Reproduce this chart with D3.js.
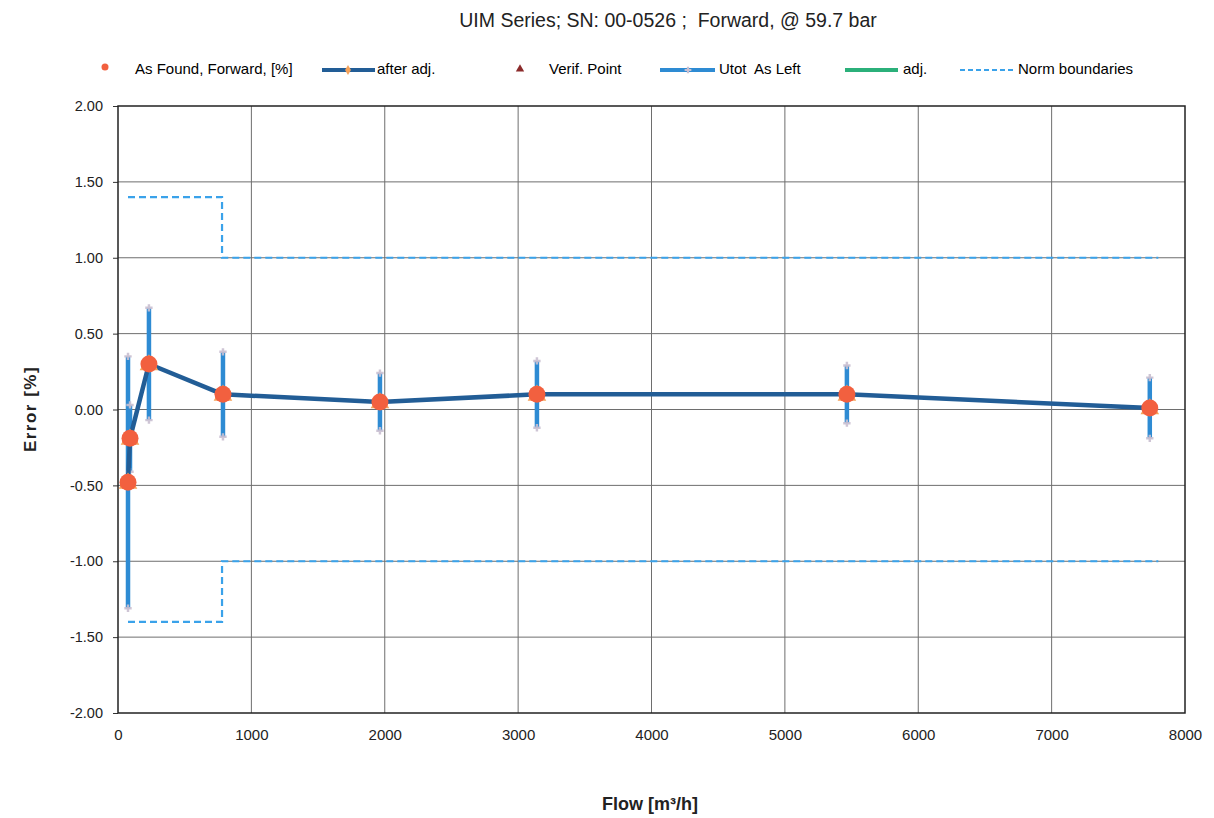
<!DOCTYPE html>
<html><head><meta charset="utf-8">
<script src="https://cdn.jsdelivr.net/npm/d3@7"></script>
<style>
body{margin:0;background:#fff;}
text{font-family:"Liberation Sans",Arial,sans-serif;white-space:pre;}
</style></head>
<body><svg id="c" width="1214" height="818"></svg>
<script>
// ---- data ----
const flows = [75, 90, 232, 787, 1964, 3141, 5465, 7736];
const asFound = [-0.48, -0.19, 0.30, 0.10, 0.05, 0.10, 0.10, 0.01];
const afterAdj = [-0.48, -0.19, 0.30, 0.10, 0.05, 0.10, 0.10, 0.01];
const uncertainty = [0.83, 0.22, 0.37, 0.28, 0.19, 0.22, 0.19, 0.20];
const normUpperX = [75, 780, 780, 7800];
const normUpperY = [1.40, 1.40, 1.00, 1.00];
const normLowerX = [75, 780, 780, 7800];
const normLowerY = [-1.40, -1.40, -1.00, -1.00];
const xTicks = [0, 1000, 2000, 3000, 4000, 5000, 6000, 7000, 8000];
const yTicks = [2, 1.5, 1, 0.5, 0, -0.5, -1, -1.5, -2];
const legendLabels = ["As Found, Forward, [%]", "after adj.", "Verif. Point", "Utot  As Left", "adj.", "Norm boundaries"];
const titleText = "UIM Series; SN: 00-0526 ;  Forward, @ 59.7 bar";

const svg = d3.select("#c");
const L = 118, R = 1185, T = 106, B = 713;
const x = d3.scaleLinear().domain([0, 8000]).range([L, R]);
const y = d3.scaleLinear().domain([-2, 2]).range([B, T]);

const cRed = "#f2603f", cDark = "#225d96", cBar = "#2e8bd3", cDash = "#3aa2ea", cGreen = "#2bb07a", cOrange = "#f5a25a";

// title
svg.append("text").attr("x", 668).attr("y", 27).attr("text-anchor", "middle")
  .attr("font-size", 19.5).attr("fill", "#222").text(titleText);

// grid
const g = svg.append("g");
g.selectAll(".vg").data(xTicks.slice(1, -1)).join("line")
  .attr("x1", d => x(d)).attr("x2", d => x(d)).attr("y1", T).attr("y2", B)
  .attr("stroke", "#6e6e6e").attr("stroke-width", 1);
g.selectAll(".hg").data(yTicks.slice(1, -1)).join("line")
  .attr("x1", L).attr("x2", R).attr("y1", d => y(d)).attr("y2", d => y(d))
  .attr("stroke", "#6e6e6e").attr("stroke-width", 1);

// axes
const yAxis = d3.axisLeft(y).tickValues(yTicks).tickFormat(d => d.toFixed(2)).tickSize(5).tickPadding(10);
const ya = svg.append("g").attr("transform", `translate(${L},0)`).call(yAxis);
ya.select(".domain").remove();
ya.selectAll("line").attr("stroke", "#333");
ya.selectAll("text").attr("font-size", 14.5).attr("fill", "#222").attr("font-family", "Liberation Sans, Arial, sans-serif");

const xAxis = d3.axisBottom(x).tickValues(xTicks).tickFormat(d => String(d)).tickSize(0).tickPadding(16);
const xa = svg.append("g").attr("transform", `translate(0,${B})`).call(xAxis);
xa.select(".domain").remove();
xa.selectAll("text").attr("font-size", 15).attr("fill", "#222").attr("font-family", "Liberation Sans, Arial, sans-serif");

// border
svg.append("rect").attr("x", L).attr("y", T).attr("width", R - L).attr("height", B - T)
  .attr("fill", "none").attr("stroke", "#222").attr("stroke-width", 1.5);

// axis titles
svg.append("text").attr("x", 650).attr("y", 810).attr("text-anchor", "middle")
  .attr("font-size", 18).attr("font-weight", "bold").attr("fill", "#222").text("Flow [m³/h]");
svg.append("text").attr("transform", "translate(36,409) rotate(-90)").attr("text-anchor", "middle")
  .attr("font-size", 17).attr("font-weight", "bold").attr("fill", "#222").attr("letter-spacing", 1.5)
  .text("Error [%]");

// norm boundaries
const ln = d3.line().x(d => x(d[0])).y(d => y(d[1]));
[[normUpperX, normUpperY], [normLowerX, normLowerY]].forEach(([xs, ys]) => {
  svg.append("path").datum(xs.map((v, i) => [v, ys[i]])).attr("d", ln)
    .attr("fill", "none").attr("stroke", cDash).attr("stroke-width", 2.2).attr("stroke-dasharray", "7,4");
});

// error bars (Utot As Left)
const eb = svg.append("g");
flows.forEach((f, i) => {
  const lo = afterAdj[i] - uncertainty[i], hi = afterAdj[i] + uncertainty[i];
  eb.append("line").attr("x1", x(f)).attr("x2", x(f)).attr("y1", y(lo)).attr("y2", y(hi))
    .attr("stroke", cBar).attr("stroke-width", 4.5);
  [lo, hi].forEach(v => {
    eb.append("path").attr("d", d3.symbol(d3.symbolCross, 30)()).attr("transform", `translate(${x(f)},${y(v)})`)
      .attr("fill", "#c9bfd0").attr("opacity", 0.9);
  });
});

// after adj. line
svg.append("path").datum(flows.map((f, i) => [f, afterAdj[i]])).attr("d", ln)
  .attr("fill", "none").attr("stroke", cDark).attr("stroke-width", 4.5).attr("stroke-linejoin", "round");

// after adj markers (orange triangles)
svg.selectAll(".tri").data(flows).join("path")
  .attr("d", d3.symbol(d3.symbolTriangle, 150)())
  .attr("transform", (d, i) => `translate(${x(d)},${y(afterAdj[i]) + 1})`)
  .attr("fill", cOrange);

// as found circles
svg.selectAll(".af").data(flows).join("circle")
  .attr("cx", d => x(d)).attr("cy", (d, i) => y(asFound[i])).attr("r", 8.5)
  .attr("fill", cRed);

// legend
const lg = svg.append("g");
const ly = 70;
lg.append("circle").attr("cx", 105).attr("cy", ly - 3).attr("r", 3.5).attr("fill", cRed);
lg.append("text").attr("x", 135).attr("y", ly + 4).attr("font-size", 15).text(legendLabels[0]);
lg.append("line").attr("x1", 322).attr("x2", 375).attr("y1", ly).attr("y2", ly).attr("stroke", cDark).attr("stroke-width", 4);
lg.append("path").attr("d", d3.symbol(d3.symbolDiamond, 30)()).attr("transform", `translate(348,${ly})`).attr("fill", cOrange);
lg.append("text").attr("x", 377).attr("y", ly + 4).attr("font-size", 15).text(legendLabels[1]);
lg.append("path").attr("d", d3.symbol(d3.symbolTriangle, 30)()).attr("transform", `translate(520,${ly - 1})`).attr("fill", "#8b2b2b");
lg.append("text").attr("x", 549).attr("y", ly + 4).attr("font-size", 15).text(legendLabels[2]);
lg.append("line").attr("x1", 660).attr("x2", 715).attr("y1", ly).attr("y2", ly).attr("stroke", cBar).attr("stroke-width", 4);
lg.append("path").attr("d", d3.symbol(d3.symbolCross, 25)()).attr("transform", `translate(688,${ly})`).attr("fill", "#c9bfd0");
lg.append("text").attr("x", 719).attr("y", ly + 4).attr("font-size", 15).text(legendLabels[3]);
lg.append("line").attr("x1", 845).attr("x2", 898).attr("y1", ly).attr("y2", ly).attr("stroke", cGreen).attr("stroke-width", 4);
lg.append("text").attr("x", 903).attr("y", ly + 4).attr("font-size", 15).text(legendLabels[4]);
lg.append("line").attr("x1", 960).attr("x2", 1015).attr("y1", ly).attr("y2", ly).attr("stroke", cDash).attr("stroke-width", 2).attr("stroke-dasharray", "5,3");
lg.append("text").attr("x", 1018).attr("y", ly + 4).attr("font-size", 15).text(legendLabels[5]);
</script></body></html>
